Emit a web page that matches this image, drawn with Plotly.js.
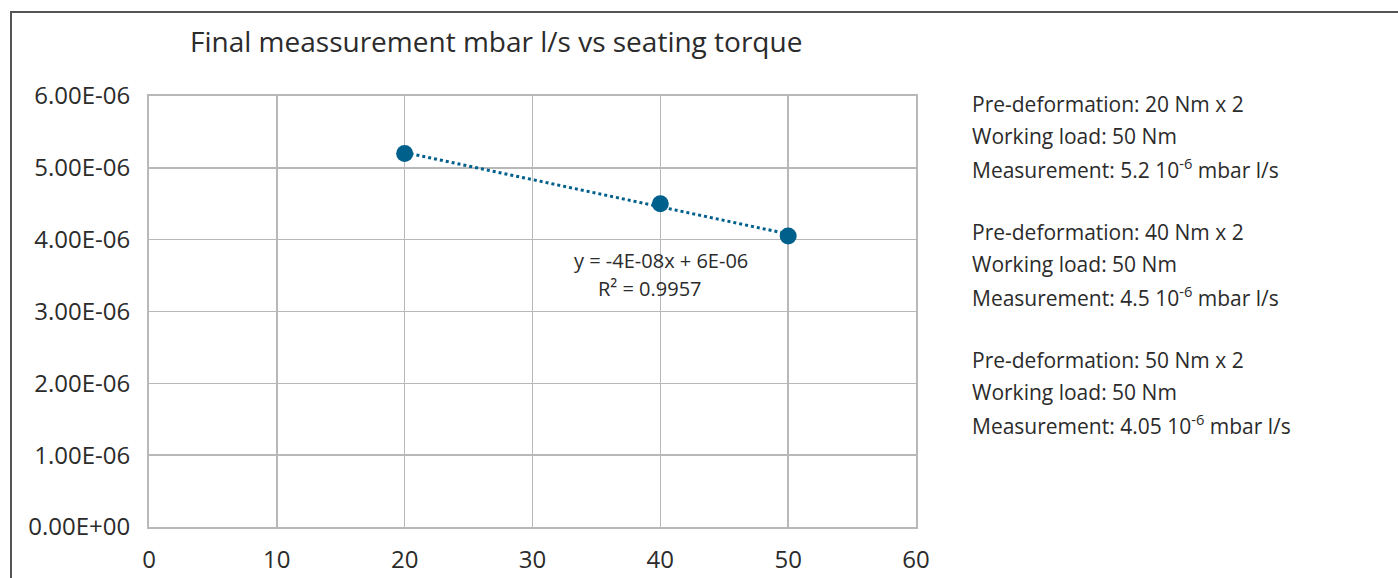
<!DOCTYPE html>
<html>
<head>
<meta charset="utf-8">
<script src="https://cdn.plot.ly/plotly-3.0.1.min.js"></script>
<style>
html,body{margin:0;padding:0;background:#fff;overflow:hidden;}
#wrap{position:relative;width:1398px;height:578px;}
#chart{position:absolute;left:0;top:0;width:1398px;height:578px;}
#frame{position:absolute;left:10px;top:11px;width:1500px;height:700px;border-left:2px solid #555;border-top:2px solid #555;pointer-events:none;}
</style>
</head>
<body>
<div id="wrap"><div id="chart"></div><div id="frame"></div></div>
<script>
// data
const torque = [20, 40, 50];
const leak = [5.2e-6, 4.5e-6, 4.05e-6];
const xTicks = [0, 10, 20, 30, 40, 50, 60];
const yTicks = [0, 1e-6, 2e-6, 3e-6, 4e-6, 5e-6, 6e-6];
const yTickText = ['0.00E+00','1.00E-06','2.00E-06','3.00E-06','4.00E-06','5.00E-06','6.00E-06'];
const titleText = 'Final meassurement mbar l/s vs seating torque';
const eqText = 'y = -4E-08x + 6E-06';
const r2Text = 'R² = 0.9957';
const notes = [
  ['Pre-deformation: 20 Nm x 2', 'Working load: 50 Nm', 'Measurement: 5.2 10<sup>-6</sup> mbar l/s'],
  ['Pre-deformation: 40 Nm x 2', 'Working load: 50 Nm', 'Measurement: 4.5 10<sup>-6</sup> mbar l/s'],
  ['Pre-deformation: 50 Nm x 2', 'Working load: 50 Nm', 'Measurement: 4.05 10<sup>-6</sup> mbar l/s']
];

// least-squares trendline from data
const n = torque.length;
const mx = torque.reduce((a,b)=>a+b,0)/n;
const my = leak.reduce((a,b)=>a+b,0)/n;
let sxy=0,sxx=0;
for(let i=0;i<n;i++){sxy+=(torque[i]-mx)*(leak[i]-my);sxx+=(torque[i]-mx)**2;}
const slope=sxy/sxx, icpt=my-slope*mx;
const tx=[Math.min(...torque), Math.max(...torque)];
const ty=tx.map(v=>icpt+slope*v);

const blue='#00608c';
const font="'Open Sans', 'Noto Sans', sans-serif";
const txtCol='#2b2b2b';

const traces=[
  {x:tx,y:ty,mode:'lines',line:{color:blue,width:3,dash:'dot'},hoverinfo:'skip',showlegend:false},
  {x:torque,y:leak,mode:'markers',marker:{color:blue,size:17},showlegend:false}
];

const annotations=[
  {text:eqText,x:(661-149)/767,y:(527-260)/431,xref:'paper',yref:'paper',showarrow:false,font:{family:font,size:20,color:txtCol},xanchor:'center',yanchor:'middle'},
  {text:r2Text,x:(650-149)/767,y:(527-288)/431,xref:'paper',yref:'paper',showarrow:false,font:{family:font,size:20,color:txtCol},xanchor:'center',yanchor:'middle'}
];
const lineY=[104,136,168,232,264,296,360,392,424];
let k=0;
notes.forEach(g=>g.forEach(line=>{
  annotations.push({text:line,xref:'paper',yref:'paper',x:(970-149)/767,y:(527-lineY[k])/431,
    showarrow:false,xanchor:'left',yanchor:'middle',align:'left',font:{family:font,size:21,color:txtCol}});
  k++;
}));

const layout={
  width:1398,height:578,
  margin:{l:149,r:482,t:96,b:51},
  paper_bgcolor:'#fff',plot_bgcolor:'#fff',
  title:{text:titleText,xref:'container',x:190/1398,xanchor:'left',yref:'container',y:1-42/578,yanchor:'middle',font:{family:font,size:28,color:txtCol}},
  xaxis:{range:[0,60],tickvals:xTicks,ticktext:xTicks.map(String),showgrid:true,gridcolor:'#b8b8b8',gridwidth:1.5,
    showline:true,mirror:true,linecolor:'#b8b8b8',linewidth:2,zeroline:false,ticks:'',ticklabelstandoff:10,
    tickfont:{family:font,size:24,color:txtCol},fixedrange:true},
  yaxis:{range:[0,6e-6],tickvals:yTicks,ticktext:yTickText,showgrid:true,gridcolor:'#b8b8b8',gridwidth:1.5,
    showline:true,mirror:true,linecolor:'#b8b8b8',linewidth:2,zeroline:false,ticks:'',ticklabelstandoff:12,
    tickfont:{family:font,size:24,color:txtCol},fixedrange:true},
  annotations:annotations,
  showlegend:false
};
Plotly.newPlot('chart',traces,layout,{displayModeBar:false,staticPlot:true});
</script>
</body>
</html>
